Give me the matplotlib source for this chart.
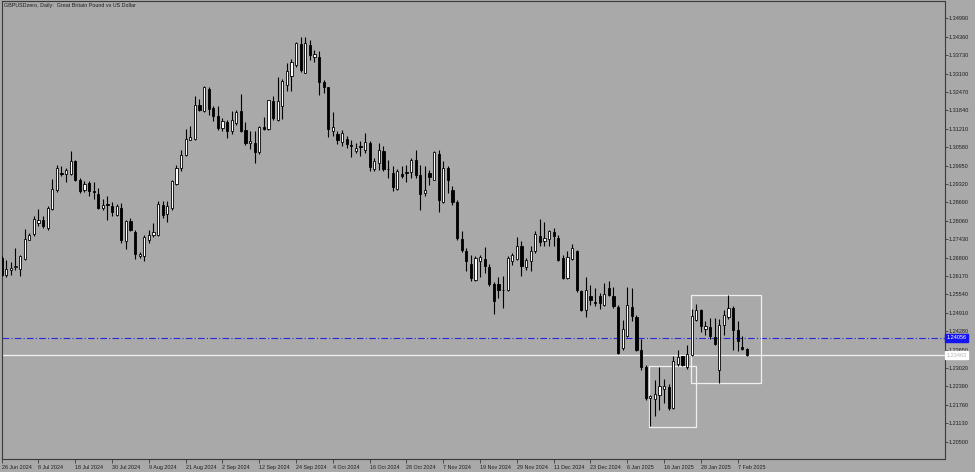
import numpy as np
import matplotlib
matplotlib.use("Agg")
import matplotlib.pyplot as plt
from matplotlib.patches import Rectangle
from matplotlib.transforms import blended_transform_factory

# daily OHLC, GBPUSD, 26 Jun 2024 .. 11 Feb 2025
opens = [
    1.26785, 1.26215, 1.26363, 1.26477, 1.26409, 1.26751, 1.27412, 1.27594, 1.27982, 1.28073,
    1.27811, 1.28472, 1.29099, 1.29692, 1.29669, 1.29658, 1.30091, 1.29464, 1.29122, 1.29350,
    1.29088, 1.28974, 1.28495, 1.28632, 1.28575, 1.28267, 1.28495, 1.27355, 1.28039, 1.27674,
    1.26865, 1.26865, 1.27412, 1.27583, 1.27583, 1.28609, 1.28301, 1.28495, 1.29327, 1.29863,
    1.30319, 1.30832, 1.30855, 1.32006, 1.31824, 1.32565, 1.31915, 1.31653, 1.31231, 1.31436,
    1.31117, 1.31402, 1.31801, 1.31174, 1.30718, 1.30718, 1.30399, 1.31265, 1.31208, 1.32143,
    1.31493, 1.31995, 1.32713, 1.33032, 1.33397, 1.34115, 1.33135, 1.34081, 1.33682, 1.33682,
    1.32804, 1.32633, 1.31140, 1.31037, 1.30741, 1.30866, 1.30661, 1.30456, 1.30615, 1.30467,
    1.30718, 1.29829, 1.30034, 1.30433, 1.29840, 1.29692, 1.29145, 1.29669, 1.29715, 1.29715,
    1.30148, 1.29635, 1.29008, 1.29692, 1.29464, 1.30353, 1.28689, 1.29863, 1.29122, 1.28689,
    1.27435, 1.27013, 1.26591, 1.26021, 1.26671, 1.26762, 1.26477, 1.25907, 1.25907, 1.25679,
    1.25679, 1.26671, 1.26751, 1.27207, 1.26477, 1.26671, 1.27036, 1.27549, 1.27378, 1.27446,
    1.27663, 1.27469, 1.26785, 1.26101, 1.26751, 1.27013, 1.25645, 1.25018, 1.25497, 1.25269,
    1.25497, 1.25189, 1.25759, 1.25474, 1.25109, 1.23707, 1.24129, 1.25109, 1.24767, 1.23650,
    1.23057, 1.21986, 1.21963, 1.22111, 1.22305, 1.22373, 1.21655, 1.23171, 1.23422, 1.23057,
    1.23479, 1.24676, 1.24995, 1.24357, 1.24425, 1.24083, 1.22943, 1.24505, 1.24767, 1.25075,
    1.24311, 1.23730, 1.23673,
]
highs = [
    1.26842, 1.26705, 1.26637, 1.27127, 1.26899, 1.27788, 1.27640, 1.28210, 1.28461, 1.28233,
    1.28552, 1.29487, 1.29977, 1.29943, 1.29863, 1.30433, 1.30125, 1.29521, 1.29407, 1.29407,
    1.29373, 1.29179, 1.28803, 1.28894, 1.28689, 1.28643, 1.28666, 1.28096, 1.28153, 1.27754,
    1.26979, 1.27583, 1.27754, 1.27982, 1.28723, 1.28723, 1.28723, 1.29464, 1.29977, 1.30467,
    1.31208, 1.31288, 1.32337, 1.32223, 1.32679, 1.32633, 1.31972, 1.31995, 1.31573, 1.31516,
    1.31801, 1.31858, 1.32405, 1.31425, 1.31117, 1.31117, 1.31311, 1.31607, 1.32200, 1.32314,
    1.32998, 1.32907, 1.33454, 1.33591, 1.34195, 1.34366, 1.34366, 1.34252, 1.33910, 1.33887,
    1.32884, 1.32656, 1.31767, 1.31117, 1.31151, 1.30969, 1.30832, 1.30718, 1.30775, 1.31060,
    1.30775, 1.30205, 1.30718, 1.30604, 1.30148, 1.29943, 1.29829, 1.29943, 1.29977, 1.30205,
    1.30467, 1.29977, 1.29920, 1.29806, 1.30433, 1.30490, 1.30091, 1.29920, 1.29259, 1.28760,
    1.27697, 1.27127, 1.26899, 1.26865, 1.26899, 1.27161, 1.26591, 1.25953, 1.26135, 1.26158,
    1.26865, 1.26956, 1.27492, 1.27355, 1.26785, 1.27207, 1.27697, 1.28119, 1.28005, 1.27754,
    1.27811, 1.27583, 1.26899, 1.27013, 1.27275, 1.27070, 1.25702, 1.26135, 1.25873, 1.25759,
    1.25588, 1.25930, 1.25987, 1.25793, 1.25189, 1.24676, 1.25793, 1.25759, 1.24847, 1.24000,
    1.23137, 1.22111, 1.22624, 1.23057, 1.22647, 1.22487, 1.23422, 1.23627, 1.23445, 1.23821,
    1.25041, 1.25223, 1.25041, 1.24642, 1.24733, 1.24733, 1.24699, 1.24995, 1.25531, 1.25132,
    1.24619, 1.24106, 1.23707,
]
lows = [
    1.26158, 1.26135, 1.26215, 1.26363, 1.26158, 1.26705, 1.27389, 1.27549, 1.27891, 1.27811,
    1.27754, 1.28438, 1.29031, 1.29601, 1.29373, 1.29635, 1.29407, 1.29008, 1.29031, 1.28894,
    1.28803, 1.28472, 1.28438, 1.28096, 1.28233, 1.28210, 1.27298, 1.27093, 1.27697, 1.26751,
    1.26785, 1.26671, 1.27298, 1.27503, 1.27526, 1.28153, 1.28005, 1.28438, 1.29293, 1.29749,
    1.30285, 1.30809, 1.30832, 1.31801, 1.31790, 1.31687, 1.31459, 1.31174, 1.31117, 1.30889,
    1.31037, 1.31345, 1.31083, 1.30661, 1.30513, 1.30034, 1.30353, 1.31151, 1.31174, 1.31493,
    1.31459, 1.31539, 1.32485, 1.32485, 1.33340, 1.33169, 1.33112, 1.33568, 1.33511, 1.32371,
    1.32428, 1.30923, 1.30946, 1.30695, 1.30627, 1.30547, 1.30228, 1.30376, 1.30285, 1.30376,
    1.29749, 1.29749, 1.29806, 1.29772, 1.29521, 1.29065, 1.29099, 1.29521, 1.29373, 1.29521,
    1.29521, 1.28438, 1.28894, 1.29293, 1.29441, 1.28347, 1.28666, 1.29008, 1.28609, 1.27412,
    1.26979, 1.26329, 1.25987, 1.25987, 1.26135, 1.26272, 1.25816, 1.24881, 1.25417, 1.25075,
    1.25645, 1.26557, 1.26705, 1.26181, 1.26386, 1.26329, 1.26956, 1.27184, 1.27207, 1.27207,
    1.27207, 1.26671, 1.26067, 1.26067, 1.26705, 1.25611, 1.24961, 1.24767, 1.25189, 1.25132,
    1.25041, 1.25132, 1.25474, 1.25075, 1.23513, 1.23650, 1.24083, 1.24619, 1.23593, 1.22966,
    1.21940, 1.21028, 1.21370, 1.21598, 1.21826, 1.21598, 1.21621, 1.23103, 1.23103, 1.22989,
    1.23445, 1.24619, 1.24243, 1.24163, 1.24015, 1.23821, 1.22510, 1.24163, 1.24699, 1.23627,
    1.23593, 1.23650, 1.23445,
]
closes = [
    1.26215, 1.26409, 1.26443, 1.26523, 1.26842, 1.27446, 1.27560, 1.28119, 1.28073, 1.27868,
    1.28495, 1.29145, 1.29863, 1.29646, 1.29783, 1.30091, 1.29441, 1.29065, 1.29327, 1.29065,
    1.29042, 1.28495, 1.28609, 1.28598, 1.28347, 1.28552, 1.27389, 1.28039, 1.27754, 1.26922,
    1.26922, 1.27503, 1.27583, 1.27674, 1.28643, 1.28267, 1.28552, 1.29407, 1.29863, 1.30319,
    1.30855, 1.30923, 1.32029, 1.31835, 1.32633, 1.31892, 1.31653, 1.31231, 1.31459, 1.31117,
    1.31493, 1.31767, 1.31117, 1.30718, 1.30798, 1.30410, 1.31265, 1.31197, 1.32177, 1.31573,
    1.32166, 1.32850, 1.33203, 1.33511, 1.34138, 1.33226, 1.34138, 1.33739, 1.33773, 1.32827,
    1.32656, 1.31208, 1.31265, 1.30832, 1.31060, 1.30695, 1.30604, 1.30547, 1.30581, 1.30741,
    1.29886, 1.30114, 1.30490, 1.29829, 1.29818, 1.29202, 1.29772, 1.29578, 1.29692, 1.30148,
    1.29635, 1.28985, 1.29122, 1.29555, 1.30410, 1.28780, 1.29863, 1.29441, 1.28689, 1.27469,
    1.27070, 1.26671, 1.26101, 1.26785, 1.26819, 1.26523, 1.25907, 1.25303, 1.25679, 1.25702,
    1.26785, 1.26876, 1.27207, 1.26500, 1.26705, 1.27013, 1.27617, 1.27321, 1.27469, 1.27697,
    1.27526, 1.26705, 1.26101, 1.26819, 1.27127, 1.25679, 1.24995, 1.25679, 1.25337, 1.25246,
    1.25246, 1.25565, 1.25531, 1.25132, 1.23536, 1.24357, 1.25189, 1.24790, 1.23650, 1.23057,
    1.21997, 1.22054, 1.22145, 1.22419, 1.22396, 1.21655, 1.23251, 1.23399, 1.23137, 1.23513,
    1.24790, 1.24995, 1.24448, 1.24471, 1.24129, 1.23844, 1.24505, 1.24847, 1.25075, 1.24334,
    1.23935, 1.23673, 1.23463,
]

date_labels = [
    "26 Jun 2024", "8 Jul 2024", "18 Jul 2024", "30 Jul 2024", "9 Aug 2024",
    "21 Aug 2024", "2 Sep 2024", "12 Sep 2024", "24 Sep 2024", "4 Oct 2024",
    "16 Oct 2024", "28 Oct 2024", "7 Nov 2024", "19 Nov 2024", "29 Nov 2024",
    "11 Dec 2024", "23 Dec 2024", "6 Jan 2025", "16 Jan 2025", "28 Jan 2025",
    "7 Feb 2025",
]
BARS_PER_LABEL = 8

price_ticks = [
    1.34990, 1.34360, 1.33730, 1.33100, 1.32470, 1.31840, 1.31210, 1.30580,
    1.29950, 1.29320, 1.28690, 1.28060, 1.27430, 1.26800, 1.26170, 1.25540,
    1.24910, 1.24280, 1.23650, 1.23020, 1.22390, 1.21760, 1.21130, 1.20500,
]

hline_level = 1.24056   # dash-dot horizontal line
bid_level = 1.23463     # current bid line

# rectangles drawn on the chart: (bar start, bar end, price low, price high)
rect_boxes = [
    (140.8, 150.9, 1.21005, 1.23103),
    (149.9, 165.0, 1.22497, 1.25527),
]

BG = "#a9a9a9"
TXT = "#1e1e1e"


def main() -> None:
    o = np.array(opens)
    h = np.array(highs)
    l = np.array(lows)
    c = np.array(closes)
    x = np.arange(len(o))
    up = c >= o

    fig = plt.figure(figsize=(9.75, 4.72), dpi=100, facecolor=BG)
    W, H = 975.0, 472.0
    ax = fig.add_axes([1.5 / W, 12.7 / H, 943.0 / W, 458.3 / H])
    ax.set_facecolor(BG)

    ax.axhline(hline_level, color="#2828d8", lw=0.8, ls=(0, (6, 2, 1, 2)), zorder=1)
    ax.axhline(bid_level, color="#f2f2f2", lw=0.9, zorder=1)

    for x0, x1, p0, p1 in rect_boxes:
        ax.add_patch(Rectangle((x0, p0), x1 - x0, p1 - p0, fill=False,
                               edgecolor="#f0f0f0", lw=0.9, zorder=2))

    ax.vlines(x, l, h, color="black", lw=0.8, zorder=3)
    hgt = np.maximum(np.abs(c - o), 0.00004)
    bot = np.minimum(o, c)
    ax.bar(x[up], hgt[up], bottom=bot[up], width=0.5, facecolor="white",
           edgecolor="black", lw=0.6, zorder=4)
    ax.bar(x[~up], hgt[~up], bottom=bot[~up], width=0.5, facecolor="black",
           edgecolor="black", lw=0.6, zorder=4)

    ax.set_xlim(-0.04, 204.96)
    ax.set_ylim(1.19898, 1.35582)

    for s in ax.spines.values():
        s.set_color("#3a3a3a")
        s.set_linewidth(0.8)

    # right price scale
    ax.yaxis.tick_right()
    ax.set_yticks(price_ticks)
    ax.set_yticklabels([f"{p:.5f}" for p in price_ticks])
    ax.tick_params(axis="y", direction="out", length=2, width=0.6, pad=1,
                   colors="#3a3a3a", labelcolor=TXT, labelsize=4.0)

    # bottom time scale
    ax.set_xticks([i * BARS_PER_LABEL for i in range(len(date_labels))])
    ax.set_xticklabels(date_labels)
    ax.tick_params(axis="x", direction="out", length=3, width=0.6, pad=1.0,
                   colors="#3a3a3a", labelcolor=TXT, labelsize=3.9)
    for lab in ax.get_xticklabels():
        lab.set_horizontalalignment("left")

    for t in ax.get_xticklabels() + ax.get_yticklabels():
        t.set_fontfamily("Liberation Sans")

    # price labels on the scale
    tr = blended_transform_factory(ax.transAxes, ax.transData)
    ax.text(1.0025, hline_level, f"{hline_level:.5f}", transform=tr, fontsize=4.0,
            family="Liberation Sans", color="white", va="center", ha="left",
            bbox=dict(boxstyle="square,pad=0.25", fc="#1414f0", ec="#1414f0"),
            clip_on=False, zorder=6)
    ax.text(1.0025, bid_level, f"{bid_level:.5f}", transform=tr, fontsize=4.0,
            family="Liberation Sans", color="#b4b4b4", va="center", ha="left",
            bbox=dict(boxstyle="square,pad=0.25", fc="white", ec="white"),
            clip_on=False, zorder=6)

    fig.text(3.5 / W, 1 - 6 / H, "GBPUSDzero, Daily:  Great Britain Pound vs US Dollar",
             fontsize=3.9, family="Liberation Sans", color=TXT, va="center", ha="left")

    fig.savefig("out.png", dpi=100, facecolor=BG)
    plt.close(fig)


if __name__ == "__main__":
    main()
